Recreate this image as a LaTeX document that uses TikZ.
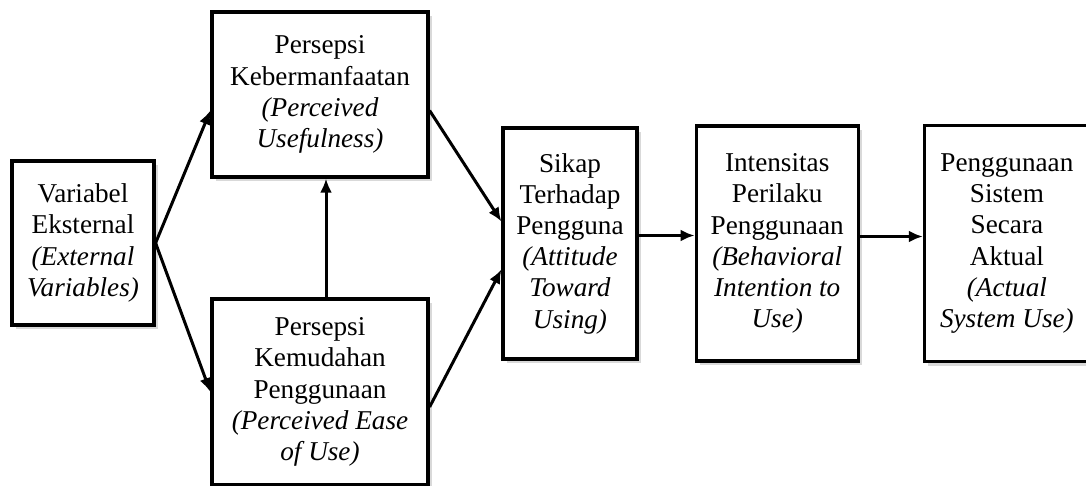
\documentclass[tikz,border=0pt]{standalone}
\usepackage{fontspec}
\setmainfont{Liberation Serif}
\usetikzlibrary{arrows.meta, positioning, shadows}

\begin{document}
\begin{tikzpicture}[
  x=0.5pt, y=-0.5pt,
  box/.style = {
    draw,
    line width=1.6pt,
    fill=white,
    align=center,
    inner sep=2pt,
    font=\fontsize{13.6}{15.6}\selectfont,
    drop shadow={shadow xshift=2pt, shadow yshift=-2pt, opacity=0.3}
  },
  arrow/.style = {line width=1.5pt, -{Latex[length=7pt, width=6pt]}}
]

\useasboundingbox (0,0) rectangle (1086,486);

% ======================================================
% BOXES
% ======================================================

\node[box, minimum width=71pt, minimum height=82pt] (ext) at (83,243) {
  Variabel\\ Eksternal\\ \textit{(External}\\ \textit{Variables)}
};

\node[box, minimum width=108pt, minimum height=82.5pt] (useful) at (320,94.5) {
  Persepsi\\ Kebermanfaatan\\ \textit{(Perceived}\\ \textit{Usefulness)}
};

\node[box, minimum width=108pt, minimum height=93pt] (ease) at (320,392) {
  Persepsi\\ Kemudahan\\ Penggunaan\\ \textit{(Perceived Ease}\\ \textit{of Use)}
};

\node[box, minimum width=67pt, minimum height=115.5pt] (attitude) at (570,243.5) {
  Sikap\\ Terhadap\\ Pengguna\\ \textit{(Attitude}\\ \textit{Toward}\\ \textit{Using)}
};

\node[box, minimum width=81pt, minimum height=117.5pt, right=28pt of attitude] (intention) {
  Intensitas\\ Perilaku\\ Penggunaan\\ \textit{(Behavioral}\\ \textit{Intention to}\\ \textit{Use)}
};

\node[box, minimum width=82.5pt, minimum height=118pt, right=31.5pt of intention] (actual) {
  Penggunaan\\ Sistem\\ Secara\\ Aktual\\ \textit{(Actual}\\ \textit{System Use)}
};

% ---- Arrows ----
\draw[arrow] (ext.east) -- ([yshift=-8pt]useful.west);
\draw[arrow] (ext.east) -- (ease.west);
\draw[arrow] ([xshift=3pt]ease.north) -- ([xshift=3pt]useful.south);
\draw[arrow] ([yshift=-8pt]useful.east) -- ([yshift=11pt]attitude.west);
\draw[arrow] ([yshift=-7.5pt]ease.east) -- ([yshift=-13pt]attitude.west);
\draw[arrow] ([yshift=4pt]attitude.east) -- ([yshift=4pt]intention.west);
\draw[arrow] ([yshift=3.5pt]intention.east) -- ([yshift=3.5pt]actual.west);

\end{tikzpicture}
\end{document}
